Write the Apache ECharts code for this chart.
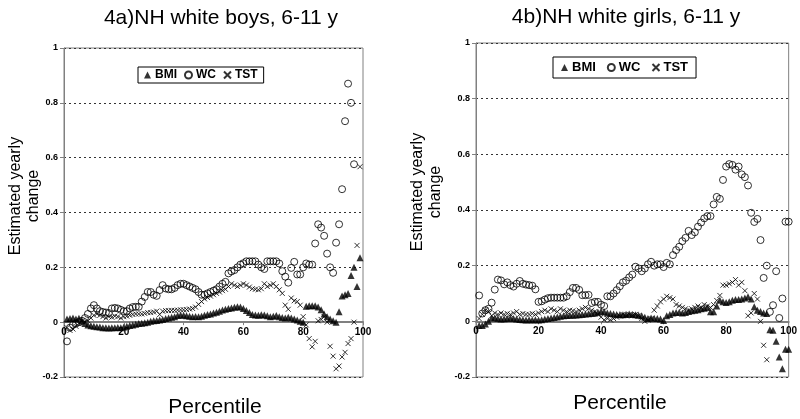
<!DOCTYPE html>
<html>
<head>
<meta charset="utf-8">
<script src="https://cdn.jsdelivr.net/npm/echarts@6.0.0/dist/echarts.min.js"></script>
<style>
  html, body { margin: 0; padding: 0; background: #fff; }
  #chart { width: 800px; height: 419px; }
</style>
</head>
<body>
<div id="chart"></div>
<script>
// percentile 1..n -> estimated yearly change
const boysBMI = [0.012,0.013,0.015,0.012,0.014,0.005,-0.005,-0.01,-0.013,-0.015,
  -0.017,-0.018,-0.02,-0.02,-0.021,-0.02,-0.02,-0.019,-0.02,-0.018,
  -0.015,-0.012,-0.01,-0.008,-0.005,-0.004,-0.002,0.0,0.003,0.005,
  0.006,0.008,0.01,0.013,0.015,0.018,0.02,0.024,0.026,0.025,
  0.023,0.022,0.02,0.021,0.02,0.022,0.025,0.028,0.03,0.033,
  0.036,0.04,0.044,0.047,0.05,0.052,0.054,0.056,0.055,0.05,
  0.043,0.035,0.028,0.026,0.025,0.027,0.026,0.023,0.02,0.022,
  0.024,0.02,0.017,0.015,0.018,0.015,0.012,0.008,0.003,0.0,
  0.058,0.06,0.06,0.06,0.055,0.045,0.03,0.02,0.012,0.005,
  0.0,0.038,0.095,0.1,0.105,0.17,0.2,0.13,0.235];
const boysWC = [-0.07,-0.02,-0.01,-0.005,0.0,0.005,0.015,0.03,0.05,0.062,
  0.05,0.04,0.037,0.035,0.033,0.05,0.052,0.05,0.045,0.04,
  0.04,0.05,0.055,0.056,0.056,0.075,0.092,0.11,0.11,0.1,
  0.096,0.117,0.135,0.123,0.12,0.12,0.125,0.135,0.14,0.14,
  0.135,0.13,0.125,0.12,0.11,0.1,0.1,0.105,0.11,0.115,
  0.12,0.13,0.14,0.147,0.178,0.185,0.19,0.2,0.21,0.215,
  0.222,0.222,0.222,0.222,0.21,0.2,0.194,0.222,0.222,0.222,
  0.222,0.214,0.186,0.166,0.144,0.198,0.22,0.174,0.174,0.2,
  0.214,0.21,0.21,0.287,0.357,0.345,0.315,0.25,0.2,0.18,
  0.29,0.357,0.485,0.733,0.87,0.8,0.576];
const boysTST = [-0.02,-0.03,-0.025,-0.015,-0.005,0.005,0.0,0.005,0.015,0.025,
  0.03,0.025,0.02,0.015,0.02,0.018,0.022,0.02,0.015,0.02,
  0.022,0.025,0.028,0.03,0.03,0.03,0.032,0.035,0.035,0.037,
  0.04,0.028,0.04,0.042,0.042,0.043,0.043,0.044,0.045,0.045,
  0.046,0.048,0.05,0.055,0.065,0.075,0.085,0.09,0.095,0.1,
  0.105,0.11,0.115,0.12,0.13,0.14,0.135,0.13,0.135,0.14,
  0.135,0.128,0.122,0.12,0.118,0.122,0.14,0.13,0.135,0.14,
  0.13,0.118,0.105,0.062,0.047,0.088,0.078,0.075,0.062,0.02,
  -0.01,-0.06,-0.09,-0.07,0.005,0.01,0.02,0.0,-0.088,-0.124,
  -0.17,-0.16,-0.127,-0.11,-0.078,-0.06,0.0,0.28,0.567];

const girlsBMI = [-0.015,-0.015,-0.01,0.0,0.012,0.013,0.01,0.008,0.009,0.01,
  0.012,0.01,0.008,0.007,0.006,0.005,0.006,0.005,0.006,0.005,
  0.006,0.008,0.01,0.012,0.014,0.016,0.018,0.02,0.021,0.022,
  0.022,0.023,0.024,0.025,0.026,0.027,0.028,0.03,0.033,0.036,
  0.034,0.03,0.028,0.026,0.025,0.024,0.024,0.025,0.026,0.025,
  0.024,0.022,0.02,0.015,0.01,0.012,0.011,0.01,0.008,0.003,
  0.02,0.025,0.03,0.032,0.033,0.03,0.032,0.035,0.038,0.04,
  0.042,0.045,0.047,0.05,0.034,0.034,0.055,0.076,0.07,0.068,
  0.07,0.076,0.078,0.078,0.08,0.084,0.088,0.08,0.052,0.04,
  0.035,0.03,0.028,-0.03,-0.032,-0.072,-0.128,-0.17,-0.1,-0.1];
const girlsWC = [0.093,0.028,0.04,0.045,0.067,0.114,0.15,0.147,0.133,0.14,
  0.13,0.125,0.135,0.145,0.135,0.132,0.13,0.128,0.115,0.07,
  0.072,0.078,0.083,0.085,0.085,0.085,0.085,0.085,0.09,0.105,
  0.12,0.12,0.113,0.094,0.094,0.095,0.066,0.07,0.07,0.06,
  0.055,0.09,0.09,0.1,0.112,0.126,0.14,0.146,0.158,0.168,
  0.196,0.19,0.18,0.19,0.205,0.214,0.2,0.205,0.205,0.195,
  0.21,0.205,0.238,0.256,0.268,0.288,0.3,0.325,0.31,0.32,
  0.34,0.355,0.37,0.378,0.378,0.42,0.447,0.44,0.508,0.556,
  0.565,0.562,0.545,0.556,0.528,0.518,0.488,0.39,0.357,0.368,
  0.292,0.156,0.2,0.034,0.058,0.18,0.012,0.082,0.358,0.358];
const girlsTST = [0.01,0.025,0.04,0.035,0.02,0.03,0.025,0.03,0.025,0.028,
  0.025,0.03,0.035,0.025,0.028,0.025,0.025,0.028,0.025,0.03,
  0.035,0.04,0.035,0.045,0.04,0.035,0.045,0.04,0.035,0.04,
  0.038,0.035,0.04,0.045,0.05,0.045,0.04,0.035,0.025,0.015,
  0.005,0.01,0.005,0.01,0.015,0.02,0.025,0.02,0.025,0.02,
  0.025,0.02,0.01,0.0,0.005,0.01,0.04,0.055,0.07,0.08,
  0.09,0.085,0.08,0.06,0.055,0.05,0.045,0.04,0.045,0.05,
  0.055,0.05,0.06,0.055,0.05,0.06,0.075,0.093,0.13,0.13,
  0.135,0.14,0.15,0.13,0.14,0.11,0.02,0.03,0.1,0.08,
  0.0,-0.086,-0.138];

const xTicks = [0, 20, 40, 60, 80, 100];
const yTicks = [-0.2, 0, 0.2, 0.4, 0.6, 0.8, 1];
const titles = ['4a)NH white boys, 6-11 y', '4b)NH white girls, 6-11 y'];

const FONT = '"Liberation Sans", Arial, sans-serif';
const CROSS = 'path://M0,0L10,10M10,0L0,10';

// plot boxes (px): x axis is drawn at y = 0, i.e. lifted from the bottom edge
const boxes = [
  { left: 64, top: 48, width: 299, height: 329 },
  { left: 476, top: 43, width: 315, height: 334 }
];

function pts(vals) {
  return vals.map((v, i) => [i + 1, v]);
}

function makeSeries(idx, bmi, wc, tst) {
  return [
    {
      name: 'BMI', type: 'scatter', xAxisIndex: idx, yAxisIndex: idx,
      symbol: 'triangle', symbolSize: 7,
      itemStyle: { color: '#000' },
      data: pts(bmi)
    },
    {
      name: 'WC', type: 'scatter', xAxisIndex: idx, yAxisIndex: idx,
      symbol: 'circle', symbolSize: 7,
      itemStyle: { color: 'rgba(0,0,0,0)', borderColor: '#000', borderWidth: 1 },
      data: pts(wc)
    },
    {
      name: 'TST', type: 'scatter', xAxisIndex: idx, yAxisIndex: idx,
      symbol: CROSS, symbolSize: 5,
      itemStyle: { color: 'rgba(0,0,0,0)', borderColor: '#000', borderWidth: 1 },
      data: pts(tst)
    }
  ];
}

function xAx(idx) {
  const b = boxes[idx];
  const lo = yTicks[0], hi = yTicks[yTicks.length - 1];
  const lift = b.height * (0 - lo) / (hi - lo);
  return {
    type: 'value', gridIndex: idx, position: 'bottom', offset: -lift,
    min: xTicks[0], max: xTicks[xTicks.length - 1], interval: 20,
    axisLine: { onZero: false, lineStyle: { color: '#808080', width: 2 } },
    axisTick: { show: true, length: 3, lineStyle: { color: '#808080' } },
    axisLabel: { color: '#000', fontWeight: 'bold', fontSize: 10, fontFamily: FONT, margin: 5 },
    splitLine: { show: false }
  };
}

function yAx(idx) {
  return {
    type: 'value', gridIndex: idx,
    min: yTicks[0], max: yTicks[yTicks.length - 1], interval: 0.2,
    axisLine: { show: true, onZero: false, lineStyle: { color: '#808080', width: 1 } },
    axisTick: { show: true, length: 4, lineStyle: { color: '#808080' } },
    axisLabel: {
      color: '#000', fontWeight: 'bold', fontSize: 9, fontFamily: FONT, margin: 6,
      formatter: v => String(+v.toFixed(1))
    },
    splitLine: { show: true, lineStyle: { color: '#333', type: [2, 3], width: 1 } }
  };
}

function legend(left, top, size, gap, pad) {
  return {
    left: left, top: top, orient: 'horizontal',
    data: [{ name: 'BMI', icon: 'triangle' }, { name: 'WC', icon: 'circle' }, { name: 'TST', icon: CROSS }],
    itemWidth: 7, itemHeight: 7, itemGap: gap,
    padding: pad, borderColor: '#000', borderWidth: 1, backgroundColor: '#fff',
    selectedMode: false,
    textStyle: { color: '#000', fontWeight: 'bold', fontSize: size, fontFamily: FONT, padding: [0, 0, 0, -1] }
  };
}

function txt(x, y, text, size, rot) {
  return {
    type: 'text', x: x, y: y, rotation: rot || 0,
    style: {
      text: text, font: size + 'px ' + FONT, fill: '#000',
      align: 'center', verticalAlign: 'middle', lineHeight: size + 2
    }
  };
}

const chart = echarts.init(document.getElementById('chart'), null, { renderer: 'canvas' });
chart.setOption({
  animation: false,
  backgroundColor: '#fff',
  grid: boxes.map(b => Object.assign({ show: true, borderColor: '#808080', borderWidth: 1 }, b)),
  xAxis: [xAx(0), xAx(1)],
  yAxis: [yAx(0), yAx(1)],
  legend: [legend(138, 67, 12, 7, [2, 6]), legend(553, 57, 13, 11, [4, 8])],
  series: makeSeries(0, boysBMI, boysWC, boysTST).concat(makeSeries(1, girlsBMI, girlsWC, girlsTST)),
  graphic: [
    txt(221, 18, titles[0], 21),
    txt(626, 17, titles[1], 21),
    txt(25, 196, 'Estimated yearly\nchange', 16, Math.PI / 2),
    txt(427, 192, 'Estimated yearly\nchange', 16, Math.PI / 2),
    txt(215, 407, 'Percentile', 21),
    txt(620, 403, 'Percentile', 21)
  ]
});
</script>
</body>
</html>
